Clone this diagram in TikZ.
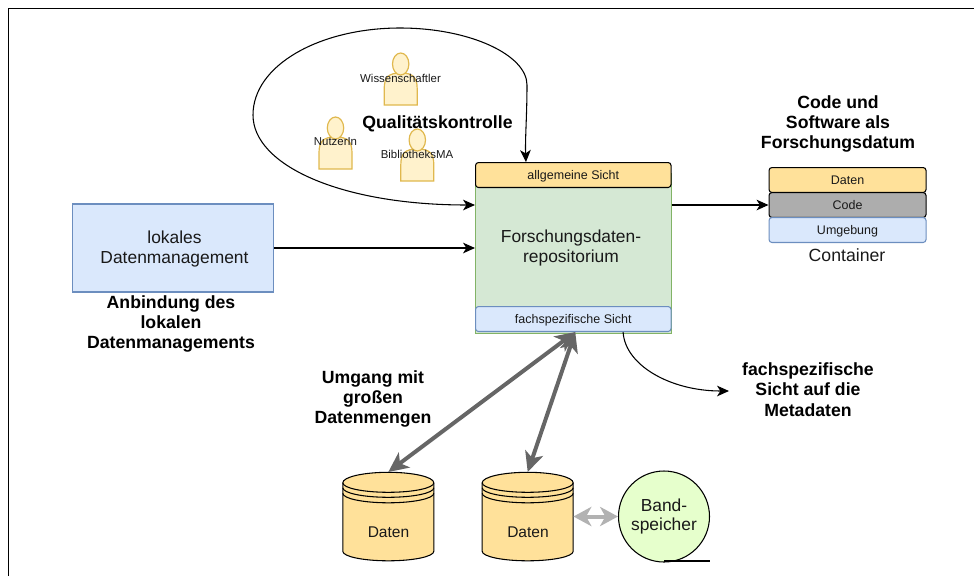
\documentclass[tikz,border=0pt]{standalone}
\usepackage{fontspec}
\setmainfont{Liberation Sans}
\usetikzlibrary{arrows.meta}
\definecolor{personfill}{HTML}{FFF2CC}
\definecolor{personline}{HTML}{E0B84E}
\definecolor{yellowfill}{HTML}{FFE19A}
\definecolor{bluefill}{HTML}{DAE8FC}
\definecolor{blueline}{HTML}{6C8EBF}
\definecolor{greenfill}{HTML}{D5E8D4}
\definecolor{greenline}{HTML}{82B366}
\definecolor{grayfill}{HTML}{ADADAD}
\definecolor{tapefill}{HTML}{E6FFCC}
\tikzset{
 x=0.0264583cm,y=-0.0264583cm,
 every node/.style={text=black!90,align=center,inner sep=0pt},
 small/.style={font=\fontsize{8.6pt}{10pt}\selectfont},
 barfont/.style={font=\fontsize{9.4pt}{11pt}\selectfont},
 big/.style={font=\fontsize{13.1pt}{14.8pt}\selectfont},
 bar/.style={draw=black,line width=0.8pt,rounded corners=2.2pt,anchor=north west,minimum height=0.66cm,barfont,text height=7.5pt,text depth=0pt},
 head/.style={font=\bfseries\fontsize{13.3pt}{15.4pt}\selectfont,text=black},
 thin arrow/.style={draw=black,line width=0.8pt,-{Stealth[length=9pt,width=8pt,inset=2.5pt]}},
 big arrow/.style={draw=black!60,line width=3pt,{Stealth[length=15pt,width=14pt,inset=4pt]}-{Stealth[length=15pt,width=14pt,inset=4pt]}},
 personstyle/.style={draw=personline,fill=personfill,line width=0.9pt},
 dbline/.style={draw=black,line width=0.8pt},
}
\newcommand{\person}[2]{%
 \path[personstyle] (#1-16.5,#2+52) -- (#1-16.5,#2+36) .. controls (#1-16.5,#2+24) and (#1-12,#2+20) .. (#1,#2+20) .. controls (#1+12,#2+20) and (#1+16.5,#2+24) .. (#1+16.5,#2+36) -- (#1+16.5,#2+52) -- cycle;
 \path[personstyle] (#1,#2+11) ellipse [x radius=8.2,y radius=11];
}
\newcommand{\database}[2]{%
 \path[dbline,fill=yellowfill] (#1-45.5,#2+10.5) -- (#1-45.5,#2+79) arc[start angle=180,end angle=0,x radius=45.5,y radius=9.5] -- (#1+45.5,#2+10.5) arc[start angle=0,end angle=-180,x radius=45.5,y radius=10.5] -- cycle;
 \draw[dbline] (#1-45.5,#2+10.5) arc[start angle=180,end angle=0,x radius=45.5,y radius=9.5];
 \draw[dbline] (#1-45.5,#2+15.5) arc[start angle=180,end angle=0,x radius=45.5,y radius=9.5];
 \draw[dbline] (#1-45.5,#2+21) arc[start angle=180,end angle=0,x radius=45.5,y radius=9.5];
}
\begin{document}
\begin{tikzpicture}
\useasboundingbox (0,0) rectangle (974,576);
\draw[black,line width=1.2pt] (8.3,576) -- (8.3,8.3) -- (974,8.3);
% persons
\person{400.7}{53}
\person{335.5}{117}
\person{417.3}{129}
\node[small] (p1) at (400.5,78) {Wissenschaftler};
\node[small] (p2) at (335.5,141.5) {NutzerIn};
\node[small] (p3) at (417,154.5) {BibliotheksMA};
\node[head] (qk) at (437.5,124) {Qualitätskontrolle};
% central
\node[draw=greenline,fill=greenfill,line width=0.8pt,minimum width=195.5*0.0264583cm,minimum height=160*0.0264583cm,anchor=north west] (repo) at (475,173) {};
\node[big] (repotext) at (571,248) {Forschungsdaten-\\repositorium};
\node[bar,fill=yellowfill,minimum width=195.5*0.0264583cm] (allg) at (475,162) {allgemeine Sicht};
\node[bar,draw=blueline,fill=bluefill,minimum width=195.5*0.0264583cm] (fach) at (475,306) {fachspezifische Sicht};
% local
\node[draw=blueline,fill=bluefill,line width=0.8pt,minimum width=201*0.0264583cm,minimum height=88*0.0264583cm,big] (lokal) at (173,248) {};
\node[big] (lokaltext) at (174.5,249) {lokales\\Datenmanagement};
\node[head] (anb) at (171,324) {Anbindung des\\lokalen\\Datenmanagements};
% container
\node[head] (cs) at (838,124) {Code und\\Software als\\Forschungsdatum};
\node[bar,fill=yellowfill,minimum width=157*0.0264583cm] (daten) at (768.5,167) {Daten};
\node[bar,fill=grayfill,minimum width=157*0.0264583cm] (code) at (768.5,192) {Code};
\node[bar,draw=blueline,fill=bluefill,minimum width=157*0.0264583cm] (umg) at (768.5,217) {Umgebung};
\node[font=\fontsize{13.3pt}{15pt}\selectfont] (cont) at (847,255.5) {Container};
% texts
\node[head] (umgang) at (373,399) {Umgang mit\\großen\\Datenmengen};
\node[head] (meta) at (808,389.5) {fachspezifische\\Sicht auf die\\Metadaten};
% databases
\database{388.3}{472.3}
\database{527.7}{472.3}
\node[minimum width=91*0.0264583cm,minimum height=88.5*0.0264583cm] (db1) at (388.3,516.5) {};
\node[minimum width=91*0.0264583cm,minimum height=88.5*0.0264583cm] (db2) at (527.7,516.5) {};
\node[font=\fontsize{11.7pt}{13pt}\selectfont] (db1t) at (388.5,532) {Daten};
\node[font=\fontsize{11.7pt}{13pt}\selectfont] (db2t) at (528,532) {Daten};
% tape
\node[draw=black,fill=tapefill,line width=0.8pt,circle,minimum size=91*0.0264583cm,big] (tape) at (664,516.5) {Band-\\speicher};
\coordinate (tapee) at (710,561);
\draw[black,line width=0.8pt] (tape.south |- tapee) -- (tapee);
% connectors
\draw[thin arrow,{Stealth[length=9pt,width=8pt,inset=2.5pt]}-{Stealth[length=9pt,width=8pt,inset=2.5pt]}] (repo.west |- 0,205) .. controls (340,205) and (253,165) .. (253,115) .. controls (253,65) and (320,28) .. (400,28) .. controls (470,28) and (527,55) .. (527,85) .. controls (527,115) and (525,140) .. ([xshift=-35.6pt]allg.north);
\draw[thin arrow] (lokal.east) -- (repo.west |- lokal.east);
\draw[thin arrow] (repo.east |- code.west) -- (code.west);
\coordinate (c2) at (729,391);
\draw[thin arrow] ([xshift=37.5pt]fach.south) .. controls (625,365) and (670,391) .. (c2);
\draw[big arrow] ([xshift=1.5pt]fach.south) -- (db1.north);
\draw[big arrow] ([xshift=1.5pt]fach.south) -- (db2.north);
\draw[draw=black!30,line width=3pt,{Stealth[length=13.5pt,width=14.5pt,inset=4pt]}-{Stealth[length=13.5pt,width=14.5pt,inset=4pt]}] (db2.east |- tape.west) -- (tape.west);
\end{tikzpicture}
\end{document}
